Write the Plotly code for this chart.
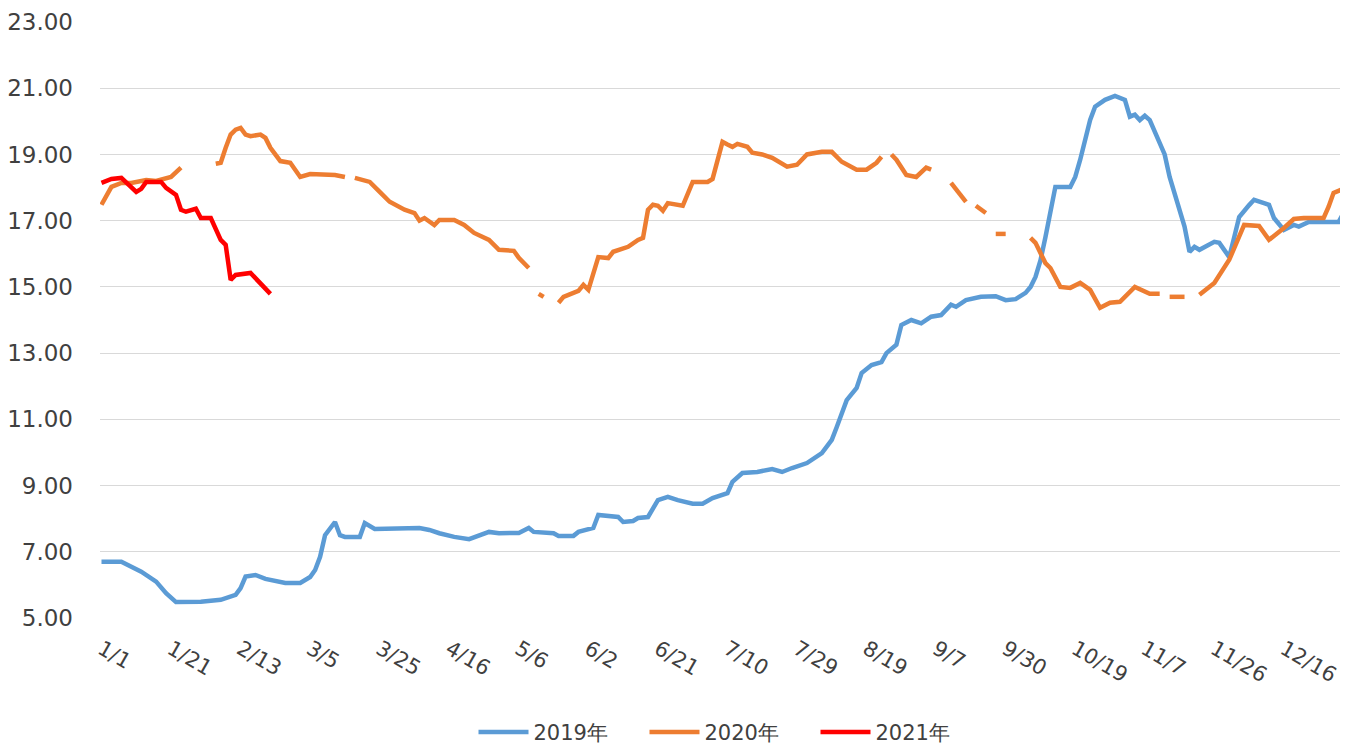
import plotly.graph_objects as go

# ---- tick labels (one label every 14 trading days) ----
TICK_LABELS = ["1/1", "1/21", "2/13", "3/5", "3/25", "4/16", "5/6", "6/2", "6/21",
               "7/10", "7/29", "8/19", "9/7", "9/30", "10/19", "11/7", "11/26", "12/16"]
TICK_STEP = 14
N_DAYS = 251

# ---- 2019 series (trading-day index, value) ----
X_2019 = [0, 4, 8, 11, 13, 15, 20, 24, 27, 28, 29, 31, 33, 35, 37, 40, 42, 43, 44, 45, 46, 47, 48, 49,
          52, 53, 55, 64, 66, 68, 71, 74, 78, 80, 84, 86, 87, 91, 92, 95, 96, 99, 100, 102, 104, 105,
          107, 108, 110, 112, 114, 116, 119, 121, 123, 126, 127, 129, 132, 135, 137, 139, 142, 145,
          147, 148, 149, 150, 152, 153, 155, 157, 158, 160, 161, 163, 165, 167, 169, 171, 172, 174,
          177, 180, 182, 184, 186, 187, 188, 189, 190, 191, 192, 195, 196, 197, 198, 199, 200, 202,
          204, 206, 207, 208, 209, 210, 211, 213, 214, 215, 216, 217, 218, 219, 220, 221, 222, 224,
          225, 227, 228, 229, 231, 232, 234, 235, 236, 238, 240, 241, 243, 249, 250]
Y_2019 = [6.70, 6.70, 6.40, 6.10, 5.75, 5.48, 5.49, 5.55, 5.70, 5.90, 6.25, 6.30, 6.18, 6.13, 6.06, 6.06,
          6.24, 6.45, 6.85, 7.50, 7.72, 7.90, 7.50, 7.45, 7.45, 7.87, 7.69, 7.72, 7.66, 7.56, 7.45, 7.38,
          7.60, 7.56, 7.57, 7.72, 7.60, 7.56, 7.48, 7.48, 7.60, 7.72, 8.11, 8.08, 8.05, 7.90, 7.93, 8.02,
          8.05, 8.56, 8.66, 8.56, 8.45, 8.45, 8.62, 8.77, 9.11, 9.38, 9.41, 9.50, 9.41, 9.53, 9.68, 9.98,
          10.38, 10.77, 11.19, 11.58, 11.95, 12.40, 12.64, 12.73, 13.00, 13.25, 13.85, 14.00, 13.90,
          14.10, 14.15, 14.46, 14.40, 14.60, 14.70, 14.72, 14.60, 14.63, 14.82, 15.00, 15.30, 15.80,
          16.50, 17.23, 18.02, 18.02, 18.32, 18.84, 19.44, 20.04, 20.44, 20.65, 20.77, 20.65, 20.14,
          20.20, 20.04, 20.17, 20.04, 19.35, 19.00, 18.32, 17.78, 17.33, 16.82, 16.06, 16.21, 16.12,
          16.20, 16.36, 16.33, 15.90, 16.50, 17.11, 17.47, 17.63, 17.53, 17.48, 17.08, 16.72, 16.87,
          16.82, 16.96, 16.96, 17.23]

# ---- 2020 series (None = missing data) ----
X_2020 = [0, 2, 4, 6, 9, 11, 14, 16, 17, 23, 24, 25, 26, 27, 28, 29, 30, 32, 33, 34, 36, 38, 40, 42, 47,
          49, 50, 51, 54, 56, 58, 61, 63, 64, 65, 67, 68, 71, 73, 75, 78, 80, 83, 84, 86, 87, 88, 89, 90,
          92, 93, 94, 96, 97, 98, 100, 102, 103, 106, 108, 109, 110, 111, 112, 113, 114, 117, 119, 122,
          123, 125, 126, 127, 128, 130, 131, 133, 135, 138, 140, 142, 145, 147, 149, 152, 154, 156, 157,
          158, 159, 160, 162, 164, 166, 167, 168, 171, 174, 175, 176, 178, 179, 180, 182, 183, 187, 188,
          190, 191, 193, 195, 197, 199, 201, 203, 205, 208, 211, 213, 214, 215, 218, 219, 221, 224, 227,
          230, 233, 235, 238, 240, 242, 246, 247, 248, 250]
Y_2020 = [17.48, 18.02, 18.14, 18.14, 18.23, 18.20, 18.32, 18.60, None, 18.72, 18.75, 19.20, 19.60,
          19.75, 19.80, 19.60, 19.55, 19.60, 19.50, 19.20, 18.80, 18.75, 18.32, 18.41, 18.38, 18.32, None,
          18.29, 18.17, 17.87, 17.57, 17.33, 17.23, 17.00, 17.08, 16.87, 17.02, 17.02, 16.87, 16.63,
          16.42, 16.12, 16.09, 15.88, 15.57, None, 14.79, 14.70, None, 14.52, 14.70, 14.76, 14.88, 15.06,
          14.91, 15.90, 15.87, 16.06, 16.21, 16.42, 16.48, 17.33, 17.48, 17.45, 17.30, 17.53, 17.45,
          18.17, 18.17, 18.26, 19.38, 19.30, 19.23, 19.32, 19.23, 19.05, 19.00, 18.90, 18.63, 18.69,
          19.00, 19.08, 19.08, 18.78, 18.54, 18.54, 18.75, 18.93, None, 19.00, 18.84, 18.38, 18.32,
          18.60, 18.54, None, 18.14, 17.57, None, 17.45, 17.23, None, 16.60, 16.60, None, 16.48, 16.33,
          15.72, 15.57, 15.00, 14.97, 15.12, 14.91, 14.37, 14.52, 14.55, 15.00, 14.79, 14.79, None,
          14.70, 14.70, None, 14.76, 15.12, 15.82, 16.87, 16.84, 16.42, 16.78, 17.05, 17.08, 17.08,
          17.42, 17.84, 17.96]

# ---- 2021 series ----
X_2021 = [0, 2, 4, 5, 7, 8, 9, 12, 13, 15, 16, 17, 19, 20, 22, 24, 25, 26, 27, 30, 32, 34]
Y_2021 = [18.14, 18.26, 18.29, 18.14, 17.87, 17.96, 18.17, 18.17, 17.99, 17.78, 17.33, 17.27, 17.36,
          17.08, 17.08, 16.42, 16.27, 15.21, 15.36, 15.42, 15.12, 14.79]

SERIES = [("2019年", X_2019, Y_2019, "#5B9BD5"),
          ("2020年", X_2020, Y_2020, "#ED7D31"),
          ("2021年", X_2021, Y_2021, "#FF0000")]

fig = go.Figure()
for name, xs, ys, color in SERIES:
    fig.add_trace(go.Scatter(x=xs, y=ys, name=name, mode="lines",
                             line=dict(color=color, width=4.5),
                             connectgaps=False))

tick_vals = [i * TICK_STEP for i in range(len(TICK_LABELS))]

fig.update_layout(
    width=1340, height=739,
    paper_bgcolor="white", plot_bgcolor="white",
    margin=dict(l=92, r=3, t=14, b=129, autoexpand=False),
    font=dict(family="DejaVu Sans", color="#404040", size=18),
    showlegend=True,
    legend=dict(orientation="h", x=0.30, xanchor="left", yref="paper",
                y=-0.192, yanchor="middle", font=dict(size=21, color="#404040"),
                entrywidth=106, entrywidthmode="pixels", itemwidth=50),
)
fig.update_xaxes(range=[-0.3, N_DAYS - 1 + 0.3], tickmode="array", tickvals=tick_vals,
                 ticktext=TICK_LABELS, tickangle=30, showgrid=False, zeroline=False,
                 showline=False, ticks="", ticklabelstandoff=14, automargin=False,
                 tickfont=dict(size=21, color="#404040"))
fig.update_yaxes(range=[5, 23], tickmode="array", tickvals=list(range(5, 24, 2)),
                 tickformat=".2f", showgrid=True, gridcolor="#D9D9D9", gridwidth=1.3,
                 zeroline=False, showline=False, ticks="", ticklabelstandoff=26, automargin=False,
                 tickfont=dict(size=23, color="#404040"))

fig.write_html("out.html")
